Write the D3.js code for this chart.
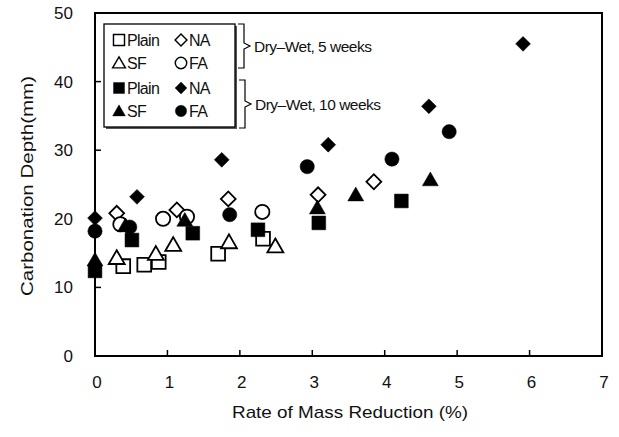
<!DOCTYPE html>
<html>
<head>
<meta charset="utf-8">
<script src="https://cdn.jsdelivr.net/npm/d3@7"></script>
<style>
  body { margin: 0; background: #fff; }
  text { font-family: "Liberation Sans", Arial, sans-serif; fill: #111; }
</style>
</head>
<body>
<div id="chart"></div>
<script>
// values
const plain5x = [0.39, 0.68, 0.88, 1.70, 2.32];
const plain5y = [13.1, 13.3, 13.7, 14.9, 17.1];
const sf5x = [0.30, 0.84, 1.08, 1.85, 2.49];
const sf5y = [14.3, 14.9, 16.2, 16.6, 16.0];
const na5x = [0.30, 1.13, 1.84, 3.08, 3.85];
const na5y = [20.8, 21.3, 22.9, 23.5, 25.4];
const fa5x = [0.35, 0.94, 1.27, 2.31];
const fa5y = [19.2, 20.0, 20.3, 21.0];

const plain10x = [0, 0.51, 1.35, 2.25, 3.09, 4.23];
const plain10y = [12.4, 16.9, 17.9, 18.4, 19.4, 22.6];
const sf10x = [0, 0.42, 1.24, 3.07, 3.60, 4.63];
const sf10y = [14.0, 19.0, 19.8, 21.6, 23.5, 25.7];
const na10x = [0, 0.58, 1.75, 3.22, 4.61, 5.91];
const na10y = [20.1, 23.2, 28.6, 30.8, 36.4, 45.5];
const fa10x = [0, 0.48, 1.86, 2.93, 4.10, 4.89];
const fa10y = [18.2, 18.8, 20.6, 27.6, 28.7, 32.7];

const xTicks = [0, 1, 2, 3, 4, 5, 6, 7];
const yTicks = [0, 10, 20, 30, 40, 50];
const legendRows = [
  ["Plain", "NA"], ["SF", "FA"], ["Plain", "NA"], ["SF", "FA"]
];
const groupLabels = ["Dry\u2013Wet, 5 weeks", "Dry\u2013Wet, 10 weeks"];

const width = 619, height = 437;
const margin = {left: 95, right: 17, top: 13, bottom: 81};

const svg = d3.select("#chart").append("svg")
  .attr("width", width).attr("height", height);

const x = d3.scaleLinear().domain([0, 7]).range([margin.left, width - margin.right]);
const y = d3.scaleLinear().domain([0, 50]).range([height - margin.bottom, margin.top]);

const zip = (xs, ys) => xs.map((v, i) => [v, ys[i]]);

// symbol shapes
const sym = {
  square: d3.symbol(d3.symbolSquare, 190),
  triangle: d3.symbol(d3.symbolTriangle, 110),
  diamond: d3.symbol(d3.symbolSquare, 110),
  circle: d3.symbol(d3.symbolCircle, 160)
};

const series = [
  {pts: zip(plain5x, plain5y), shape: "square", filled: false},
  {pts: zip(sf5x, sf5y), shape: "triangle", filled: false},
  {pts: zip(na5x, na5y), shape: "diamond", filled: false},
  {pts: zip(fa5x, fa5y), shape: "circle", filled: false},
  {pts: zip(plain10x, plain10y), shape: "square", filled: true},
  {pts: zip(sf10x, sf10y), shape: "triangle", filled: true},
  {pts: zip(na10x, na10y), shape: "diamond", filled: true},
  {pts: zip(fa10x, fa10y), shape: "circle", filled: true}
];

function drawSymbol(g, shape, filled, scale) {
  const p = g.append("path")
    .attr("d", sym[shape]())
    .attr("fill", filled ? "#000" : "#fff")
    .attr("stroke", "#000")
    .attr("stroke-width", filled ? 0.5 : 1.8);
  let tr = "";
  if (shape === "diamond") tr += "rotate(45)";
  if (shape === "triangle") tr += "translate(0,1.5)";
  if (scale) tr = `scale(${scale}) ` + tr;
  p.attr("transform", tr);
}

// frame
svg.append("rect")
  .attr("x", x(0)).attr("y", y(50))
  .attr("width", x(7) - x(0)).attr("height", y(0) - y(50))
  .attr("fill", "none").attr("stroke", "#000").attr("stroke-width", 2);

// inward ticks
svg.append("g").selectAll("line").data(yTicks.slice(1, -1)).join("line")
  .attr("x1", x(0)).attr("x2", x(0) + 6)
  .attr("y1", d => y(d)).attr("y2", d => y(d))
  .attr("stroke", "#000").attr("stroke-width", 1.5);
svg.append("g").selectAll("line").data(xTicks.slice(1, -1)).join("line")
  .attr("x1", d => x(d)).attr("x2", d => x(d))
  .attr("y1", y(0)).attr("y2", y(0) - 6)
  .attr("stroke", "#000").attr("stroke-width", 1.5);

// tick labels
svg.append("g").selectAll("text").data(yTicks).join("text")
  .attr("x", x(0) - 22).attr("y", d => y(d))
  .attr("dy", "0.35em").attr("text-anchor", "end")
  .attr("font-size", 17)
  .text(d => d);
svg.append("g").selectAll("text").data(xTicks).join("text")
  .attr("x", d => x(d) + 2).attr("y", y(0) + 32)
  .attr("text-anchor", "middle")
  .attr("font-size", 17)
  .text(d => d);

// axis titles
svg.append("text")
  .attr("x", 350).attr("y", 418)
  .attr("text-anchor", "middle").attr("font-size", 17)
  .attr("textLength", 236).attr("lengthAdjust", "spacingAndGlyphs")
  .text("Rate of Mass Reduction (%)");
svg.append("text")
  .attr("transform", "translate(33,186) rotate(-90)")
  .attr("text-anchor", "middle").attr("font-size", 17)
  .attr("textLength", 220).attr("lengthAdjust", "spacingAndGlyphs")
  .text("Carbonation Depth(mm)");

// points
series.forEach(s => {
  svg.append("g").selectAll("g").data(s.pts).join("g")
    .attr("transform", d => `translate(${x(d[0])},${y(d[1])})`)
    .each(function () { drawSymbol(d3.select(this), s.shape, s.filled); });
});

// legend box
const lg = svg.append("g");
lg.append("rect").attr("x", 106).attr("y", 26).attr("width", 131).attr("height", 103)
  .attr("fill", "#555");
lg.append("rect").attr("x", 104).attr("y", 24).attr("width", 131).attr("height", 103)
  .attr("fill", "#fff").attr("stroke", "#000").attr("stroke-width", 1.3);

const rowY = [40, 63, 88, 111];
const legendShapes = [["square", "diamond"], ["triangle", "circle"], ["square", "diamond"], ["triangle", "circle"]];
legendRows.forEach((row, i) => {
  const filled = i >= 2;
  [0, 1].forEach(j => {
    const cx = j === 0 ? 119 : 181;
    const g = lg.append("g").attr("transform", `translate(${cx},${rowY[i]})`);
    drawSymbol(g, legendShapes[i][j], filled, 0.8);
    lg.append("text")
      .attr("x", cx + 8).attr("y", rowY[i]).attr("dy", "0.36em")
      .attr("font-size", 16)
      .attr("letter-spacing", -0.7)
      .text(row[j]);
  });
});

// curly brackets and group labels
const braces = [[24, 68], [80, 128]];
braces.forEach((b, i) => {
  const mid = (b[0] + b[1]) / 2;
  const bx = 244 + i;
  svg.append("path")
    .attr("d", `M${bx - 6},${b[0]} L${bx},${b[0]} L${bx},${mid - 3} L${bx + 6},${mid} L${bx},${mid + 3} L${bx},${b[1]} L${bx - 6},${b[1]}`)
    .attr("fill", "none").attr("stroke", "#000").attr("stroke-width", 1.2);
  svg.append("text")
    .attr("x", bx + 10).attr("y", mid).attr("dy", "0.36em")
    .attr("font-size", 15.5).attr("letter-spacing", -0.5)
    .text(groupLabels[i]);
});
</script>
</body>
</html>
